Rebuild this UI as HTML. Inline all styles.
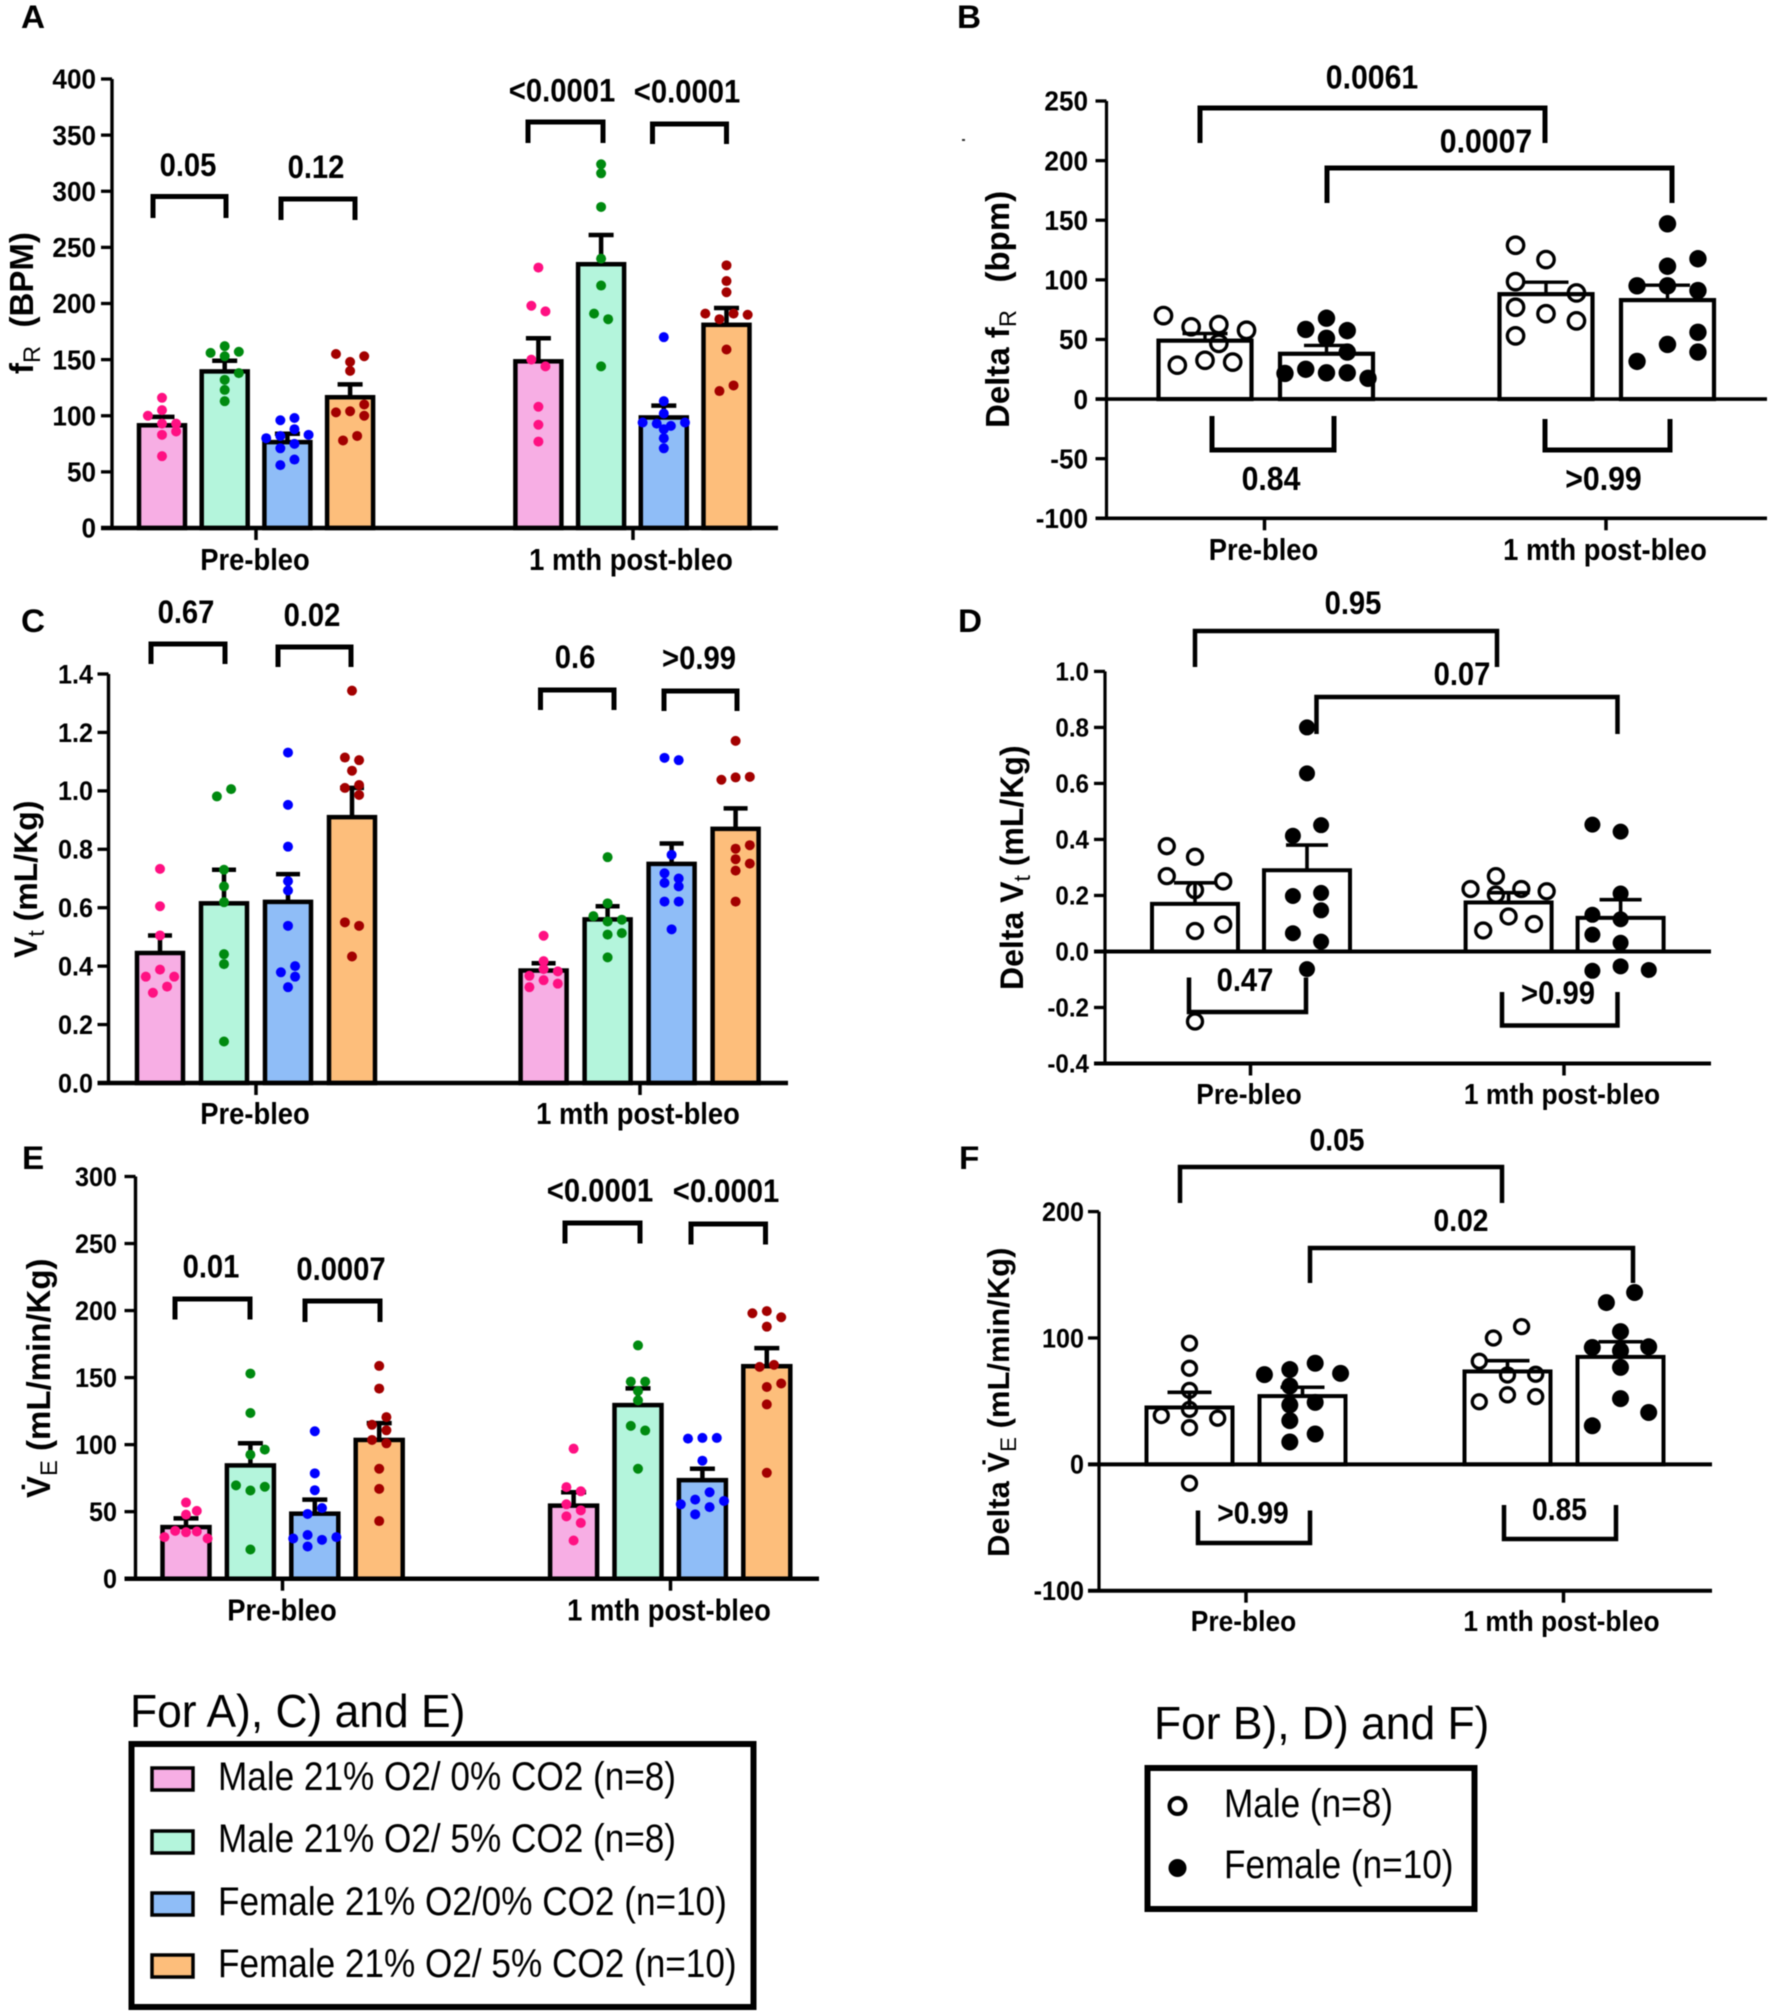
<!DOCTYPE html>
<html lang="en">
<head>
<meta charset="utf-8">
<title>Respiratory responses before and after bleomycin</title>
<style>
html,body{margin:0;padding:0;background:#fff;}
#figure{display:block;width:1772px;height:2012px;font-family:"Liberation Sans",Arial,sans-serif;filter:blur(0.45px);}
text{font-family:"Liberation Sans",Arial,sans-serif;fill:#000;}
</style>
</head>
<body>
<svg id="figure" xmlns="http://www.w3.org/2000/svg" width="1772" height="2012" viewBox="0 0 1772 2012">
  <rect x="0" y="0" width="1772" height="2012" fill="#fff"/>
  <rect x="962" y="139" width="3" height="2" fill="#333"/>

  <g>
    <text transform="translate(130 1727) scale(0.965 1)" font-size="46">For A), C) and E)</text>
    <rect x="131.5" y="1744" width="622" height="263" fill="#fff" stroke="#000" stroke-width="6"/>
    <rect x="152" y="1768" width="41" height="22" fill="#F7AEE4" stroke="#000" stroke-width="3.5"/>
    <text transform="translate(218 1790) scale(0.89 1)" font-size="39.5">Male 21% O2/ 0% CO2 (n=8)</text>
    <rect x="152" y="1831" width="41" height="22" fill="#B4F5DC" stroke="#000" stroke-width="3.5"/>
    <text transform="translate(218 1852) scale(0.89 1)" font-size="39.5">Male 21% O2/ 5% CO2 (n=8)</text>
    <rect x="152" y="1893" width="41" height="22" fill="#8FBDF7" stroke="#000" stroke-width="3.5"/>
    <text transform="translate(218 1915) scale(0.89 1)" font-size="39.5">Female 21% O2/0% CO2 (n=10)</text>
    <rect x="152" y="1955" width="41" height="22" fill="#FDBE7B" stroke="#000" stroke-width="3.5"/>
    <text transform="translate(218 1977) scale(0.89 1)" font-size="39.5">Female 21% O2/ 5% CO2 (n=10)</text>
  </g>

  <g>
    <text transform="translate(1154 1739) scale(0.965 1)" font-size="46">For B), D) and F)</text>
    <rect x="1147.5" y="1768" width="327" height="141" fill="#fff" stroke="#000" stroke-width="6"/>
    <circle cx="1177.5" cy="1806" r="8" fill="none" stroke="#000" stroke-width="4"/>
    <text transform="translate(1224 1817) scale(0.89 1)" font-size="39.5">Male (n=8)</text>
    <circle cx="1177.5" cy="1868" r="9" fill="#000"/>
    <text transform="translate(1224 1878) scale(0.89 1)" font-size="39.5">Female (n=10)</text>
  </g>
</svg>

<script>
/* ---------- shared categories ---------- */
const categories = ['Pre-bleo', '1 mth post-bleo'];
const gasSeriesFill = ['#F7AEE4', '#B4F5DC', '#8FBDF7', '#FDBE7B', '#F7AEE4', '#B4F5DC', '#8FBDF7', '#FDBE7B'];
const gasSeriesDot = ['#FF1082', '#008A10', '#0000FF', '#A30000', '#FF1082', '#008A10', '#0000FF', '#A30000'];

/* ---------- panel A: fR (BPM) ---------- */
const aTicks = ['0', '50', '100', '150', '200', '250', '300', '350', '400'];
const aMeans = [91.5, 139.5, 76.5, 116.5, 148.5, 235, 98.5, 181];
const aErrorTops = [99, 149, 84, 128, 169, 261, 109, 196];
const aValues = [
  [116, 105, 100, 93, 93, 86, 83, 64],
  [162, 156, 153, 157, 138, 132, 123, 113],
  [96, 98, 88, 80, 82, 83, 75, 71, 56, 61],
  [155, 153, 148, 140, 110, 100, 103, 104, 82, 78],
  [232, 198, 193, 150, 144, 108, 92, 77],
  [324, 316, 286, 240, 216, 191, 186, 144],
  [170, 113, 102, 94, 93, 91, 94, 88, 80, 71],
  [234, 220, 210, 191, 186, 191, 190, 159, 127, 122]
];
const aSwarm = [
  [0, 0, -2, 0, 2, 2, 0, 0],
  [0, -2, 0, 2, 2, 0, 0, 0],
  [-1, 1, 1, -3, -1, 3, 1, -1, -1, 1],
  [-2, 2, 0, 0, 2, 2, -2, 0, 1, -1],
  [0, -1, 1, -1, 1, 0, 0, 0],
  [0, 0, 0, 0, 0, -1, 1, 0],
  [0, 0, 0, -3, -1, 1, 3, 0, 0, 0],
  [0, 0, 0, -3, -1, 1, 3, 0, 1, -1]
];

/* ---------- panel B: delta fR (bpm) ---------- */
const bTicks = ['-100', '-50', '0', '50', '100', '150', '200', '250'];
const bMeans = [49, 38, 88, 83];
const bErrorTops = [55, 45, 98, 95.5];
const bValues = [
  [70, 60.6, 62.5, 57.7, 46.7, 32.5, 31, 28.4],
  [67.8, 58.4, 57.4, 51, 39.4, 25, 22, 22, 21.5, 17.4],
  [129, 117, 98.5, 89, 77, 71.6, 65.6, 53],
  [147, 117.7, 111.4, 95, 95, 91, 56, 45.8, 39.4, 31.6]
];
const bSwarm = [
  [-3, -1, 1, 3, 1, 0, 2, -2],
  [0, -1.5, 1.5, 0, 1.5, -1.5, 0, 1.5, -3, 3],
  [-2.2, 0, -2.2, 2.2, -2.2, 0, 2.2, -2.2],
  [0, 2.2, 0, -2.2, 0, 2.2, 2.2, 0, 2.2, -2.2]
];

/* ---------- panel C: Vt (mL/Kg) ---------- */
const cTicks = ['0.0', '0.2', '0.4', '0.6', '0.8', '1.0', '1.2', '1.4'];
const cMeans = [0.445, 0.615, 0.62, 0.91, 0.385, 0.56, 0.75, 0.87];
const cErrorTops = [0.505, 0.73, 0.715, 1.01, 0.41, 0.605, 0.82, 0.94];
const cValues = [
  [0.733, 0.605, 0.505, 0.388, 0.364, 0.364, 0.33, 0.309],
  [1.006, 0.981, 0.73, 0.673, 0.619, 0.441, 0.407, 0.142],
  [1.131, 0.952, 0.809, 0.691, 0.659, 0.538, 0.4, 0.379, 0.364, 0.328],
  [1.343, 1.114, 1.105, 1.069, 1.02, 1.01, 0.986, 0.55, 0.538, 0.433],
  [0.504, 0.417, 0.39, 0.367, 0.382, 0.352, 0.34, 0.328],
  [0.773, 0.615, 0.571, 0.553, 0.559, 0.508, 0.513, 0.43],
  [1.113, 1.105, 0.781, 0.718, 0.7, 0.685, 0.673, 0.621, 0.621, 0.526],
  [1.171, 1.038, 1.046, 1.048, 0.814, 0.802, 0.766, 0.751, 0.727, 0.621]
];
const cSwarm = [
  [0, 0, 0, 0, -2, 2, 1, -1],
  [1, -1, 0, 0, 0, 0, 0, 0],
  [0, 0, 0, 0, 0, 0, 1, -1, 1, 0],
  [0, -1, 1, 0, 1, -1, 1, -1, 1, 0],
  [0, 0, 0, -2, 2, 0, 2, -2],
  [0, 0, -2, 0, 2, 0, 2, 0],
  [-1, 1, 0, -1, 1, -1, 1, -1, 1, 0],
  [0, -2, 0, 2, 2, 0, 0, 2, 0, 0]
];

/* ---------- panel D: delta Vt (mL/Kg) ---------- */
const dTicks = ['-0.4', '-0.2', '0.0', '0.2', '0.4', '0.6', '0.8', '1.0'];
const dMeans = [0.17, 0.29, 0.175, 0.12];
const dErrorTops = [0.245, 0.38, 0.21, 0.185];
const dValues = [
  [0.376, 0.338, 0.269, 0.25, 0.219, 0.096, 0.073, -0.25],
  [0.8, 0.636, 0.451, 0.413, 0.209, 0.198, 0.147, 0.065, 0.035, -0.063],
  [0.269, 0.223, 0.223, 0.215, 0.203, 0.125, 0.098, 0.075],
  [0.453, 0.428, 0.207, 0.131, 0.115, 0.06, 0.031, -0.053, -0.069, -0.066]
];
const dSwarm = [
  [-2, 0, -2, 2, 0, 2, 0, 0],
  [0, 0, 1, -1, 1, -1, 1, -1, 1, 0],
  [-0.9, -2.7, 0.9, 2.7, -0.9, 0, 1.8, -1.8],
  [-2, 0, 0, -2, 0, -2, 0, 0, -2, 2]
];

/* ---------- panel E: VE (mL/min/Kg) ---------- */
const eTicks = ['0', '50', '100', '150', '200', '250', '300'];
const eMeans = [38.5, 84.5, 48.5, 103.5, 54.5, 129.5, 73.5, 158.5];
const eErrorTops = [45, 101, 59, 116, 64.5, 142, 82, 172];
const eValues = [
  [56.8, 50.6, 47.8, 35.7, 34.7, 35.2, 31, 30],
  [153, 123.6, 96.3, 92.5, 69.6, 68.6, 65.8, 21.8],
  [110, 78.6, 66, 52.7, 48.3, 32.6, 30, 29, 31, 24],
  [158.7, 141.8, 120.5, 114.8, 110.7, 103.5, 101, 82, 67, 43],
  [97, 68.3, 65.2, 55.5, 51, 46.5, 41.6, 28.5],
  [174, 147, 147, 140, 133, 114, 110.5, 82],
  [104.5, 105, 105, 88, 64.5, 59, 58, 55.5, 53.4, 48],
  [198, 199.6, 195, 188, 158, 159.5, 143, 145.6, 130, 79]
];
const eSwarm = [
  [0, 1.5, 0, -1.5, 0, 1.5, -3, 3],
  [0, 0, 2, 0, -2, 2, 0, 0],
  [0, 0, 0, 1, -1, -1, -3, 1, 3, -1],
  [0, 0, 1, -1, 1, -1, 1, 0, 0, 0],
  [0, -1, 1, -1, 1, -1, 1, 0],
  [0, -1, 1, 0, 0, -1, 1, 0],
  [-2, 0, 2, 0, 1, -1, 3, -3, 1, -1],
  [-2, 0, 2, 0, -1, 1, 0, 2, 0, 0]
];

/* ---------- panel F: delta VE (mL/min/Kg) ---------- */
const fTicks = ['-100', '0', '100', '200'];
const fMeans = [45, 54, 73.5, 85];
const fErrorTops = [57, 61, 82, 97];
const fValues = [
  [95.8, 76, 58.5, 43.5, 38.6, 36.5, 29, -15],
  [80, 75, 71, 72, 62, 47, 49, 34.6, 24, 17.7],
  [109, 100, 81.6, 70.7, 71.3, 55, 53.6, 49.5],
  [136, 128, 105, 92.5, 93, 90, 76.7, 52, 41, 30.5]
];
const fSwarm = [
  [0, 0, 0, 0, -2, 2, 0, 0],
  [0.9, -0.9, -2.7, 2.7, -0.9, -0.9, 0.9, -0.9, 0.9, -0.9],
  [1, -1, -2, 0, 2, 0, 2, -2],
  [1, -1, 0, -2, 2, 0, 0, 0, 2, -2]
];

/* ---------- drawing helpers ---------- */
const NS = 'http://www.w3.org/2000/svg';
const figure = document.getElementById('figure');

function make(tag, attrs, parent) {
  const el = document.createElementNS(NS, tag);
  for (const k in attrs) el.setAttribute(k, attrs[k]);
  parent.appendChild(el);
  return el;
}

/* Source text is slightly condensed, so labels are drawn taller and narrowed. */
function placed(x, y, hScale) {
  return 'translate(' + x + ' ' + y + ') scale(' + hScale + ' 1)';
}

function addRuns(el, runs, subDrop) {
  runs.forEach(function (r) {
    const t = document.createElementNS(NS, 'tspan');
    t.textContent = r.t;
    if (r.sub) {
      t.setAttribute('font-size', '72%');
      t.setAttribute('font-weight', 'normal');
      t.setAttribute('dy', subDrop);
    } else if (r.up) {
      t.setAttribute('dy', -subDrop);
    }
    el.appendChild(t);
  });
}

function drawPanel(p) {
  const group = make('g', {}, figure);
  
  

  const tickValues = p.ticks.map(parseFloat);
  const maxV = Math.max.apply(null, tickValues);
  const minV = Math.min.apply(null, tickValues);
  const yScale = function (v) {
    return p.yTop + (maxV - v) / (maxV - minV) * (p.yBottom - p.yTop);
  };
  const half = p.means.length / 2;
  const barX = function (i) {
    const g = i < half ? 0 : 1;
    return p.firstBar + (i % half) * p.barGap + g * p.groupGap;
  };

  const letter = make('text', {transform: placed(p.letterX, p.letterY, 1.04), 'font-size': 32, 'font-weight': 'bold'}, group);
  
  
  letter.textContent = p.id.toUpperCase();

  /* bars */
  p.means.forEach(function (m, i) {
    const cx = barX(i);
    const y0 = yScale(0);
    const yM = yScale(m);
    const bar = make('rect', {
      x: cx - p.barW / 2, y: Math.min(y0, yM), width: p.barW, height: Math.abs(y0 - yM),
      fill: p.fills ? p.fills[i] : '#fff', stroke: '#000', 'stroke-width': p.barStroke
    }, group);
    
    
  });

  /* error bars */
  p.errorTops.forEach(function (top, i) {
    const cx = barX(i);
    const err = make('path', {
      d: 'M' + cx + ' ' + yScale(p.means[i]) + 'V' + yScale(top) +
         'M' + (cx - p.capW / 2) + ' ' + yScale(top) + 'H' + (cx + p.capW / 2),
      fill: 'none', stroke: '#000', 'stroke-width': p.errStroke
    }, group);
    
    
  });

  /* individual animals */
  p.values.forEach(function (series, i) {
    series.forEach(function (v, j) {
      const open = p.openIdx && p.openIdx.indexOf(i) >= 0;
      const dotColor = p.dots ? p.dots[i] : '#000';
      const dot = make('circle', {
        cx: barX(i) + p.swarm[i][j] * p.slotW, cy: yScale(v),
        r: open ? p.openR : p.dotR,
        fill: open ? 'none' : dotColor,
        stroke: open ? '#000' : 'none',
        'stroke-width': open ? 3.3 : 0
      }, group);
      
      
    });
  });

  /* y axis */
  const yAxis = make('line', {x1: p.axisX, x2: p.axisX, y1: yScale(maxV), y2: yScale(minV), stroke: '#000', 'stroke-width': p.axisStroke}, group);
  
  
  p.ticks.forEach(function (lab, i) {
    const v = tickValues[i];
    const tick = make('line', {x1: p.axisX - 11, x2: p.axisX, y1: yScale(v), y2: yScale(v), stroke: '#000', 'stroke-width': 3.3}, group);
    
    
    const t = make('text', {transform: placed(p.tickLabelX, yScale(v) + p.tickFont * 0.36, 0.94), 'font-size': p.tickFont * 1.03, 'font-weight': 'bold', 'text-anchor': 'end'}, group);
    
    
    t.textContent = lab;
  });

  /* x axes */
  const zero = make('line', {x1: p.axisX - 11, x2: p.axisRight, y1: yScale(0), y2: yScale(0), stroke: '#000', 'stroke-width': p.xStroke}, group);
  
  
  const baseY = yScale(minV);
  if (minV < 0) {
    const xAxis = make('line', {x1: p.axisX - 11, x2: p.axisRight, y1: baseY, y2: baseY, stroke: '#000', 'stroke-width': p.xStroke}, group);
    
    
  }
  categories.forEach(function (c, i) {
    const tick = make('line', {x1: p.xTicks[i], x2: p.xTicks[i], y1: baseY, y2: baseY + 12, stroke: '#000', 'stroke-width': 3.5}, group);
    
    
    const t = make('text', {transform: placed(p.xLabels[i], p.xLabelY, 0.905), 'font-size': p.xFont * 1.12, 'font-weight': 'bold', 'text-anchor': 'middle'}, group);
    
    
    t.textContent = c;
  });

  /* y title */
  const title = make('text', {
    transform: 'translate(' + p.titleX + ',' + p.titleY + ') rotate(-90)',
    'font-size': p.titleFont, 'font-weight': 'bold'
  }, group);
  
  
  addRuns(title, p.title, 7);

  /* significance brackets */
  p.brackets.forEach(function (b, i) {
    const path = make('path', {
      d: 'M' + b[0] + ' ' + b[2] + 'V' + b[3] + 'H' + b[1] + 'V' + b[2],
      fill: 'none', stroke: '#000', 'stroke-width': p.bracketStroke
    }, group);
    
    
    const t = make('text', {transform: placed(b[5], b[6], 0.9), 'font-size': p.pFont * 1.12, 'font-weight': 'bold', 'text-anchor': 'middle'}, group);
    
    
    t.textContent = b[4];
  });
}

/* ---------- panel layouts ---------- */
drawPanel({
  id: 'a', ticks: aTicks, means: aMeans, errorTops: aErrorTops, values: aValues, swarm: aSwarm,
  fills: gasSeriesFill, dots: gasSeriesDot,
  axisX: 112, axisRight: 778, yTop: 79, yBottom: 528,
  firstBar: 162, barGap: 62.7, groupGap: 376.4, barW: 46, barStroke: 4.5, capW: 25, errStroke: 4.5,
  slotW: 7.06, dotR: 5, axisStroke: 3.4, xStroke: 4.5,
  tickLabelX: 96, tickFont: 27, xTicks: [256, 633], xLabels: [255, 631], xLabelY: 570, xFont: 27,
  letterX: 21, letterY: 28, titleX: 33, titleY: 374,
  titleFont: 33, title: [{t: 'f'}, {t: 'R', sub: true}, {t: '\u00A0\u00A0(BPM)', up: true}],
  bracketStroke: 5, pFont: 29,
  brackets: [
    [153, 226, 218, 196.5, '0.05', 188, 176],
    [281, 355, 220, 199, '0.12', 316, 178],
    [528, 603, 143, 122, '<0.0001', 562, 101.5],
    [652.5, 726.5, 144, 124, '<0.0001', 687, 102.5]
  ]
});

drawPanel({
  id: 'b', ticks: bTicks, means: bMeans, errorTops: bErrorTops, values: bValues, swarm: bSwarm,
  openIdx: [0, 2],
  axisX: 1106.5, axisRight: 1767, yTop: 101, yBottom: 518.3,
  firstBar: 1205, barGap: 121.5, groupGap: 341, barW: 93, barStroke: 4.2, capW: 45, errStroke: 3.4,
  slotW: 13.84, dotR: 8.7, openR: 8.2, axisStroke: 3.2, xStroke: 3.6,
  tickLabelX: 1088, tickFont: 27, xTicks: [1264.5, 1606], xLabels: [1263.5, 1605], xLabelY: 560, xFont: 27,
  letterX: 957, letterY: 28, titleX: 1009, titleY: 428,
  titleFont: 33, title: [{t: 'Delta f'}, {t: 'R', sub: true}, {t: '\u00A0\u00A0\u00A0(bpm)', up: true}],
  bracketStroke: 5, pFont: 30,
  brackets: [
    [1200, 1545, 143, 108, '0.0061', 1372, 88.5],
    [1327, 1672, 203, 168, '0.0007', 1486, 152.5],
    [1212, 1334, 416, 450, '0.84', 1271, 490],
    [1545, 1670, 419, 450, '>0.99', 1603.5, 490]
  ]
});

drawPanel({
  id: 'c', ticks: cTicks, means: cMeans, errorTops: cErrorTops, values: cValues, swarm: cSwarm,
  fills: gasSeriesFill, dots: gasSeriesDot,
  axisX: 108.5, axisRight: 788, yTop: 674, yBottom: 1083,
  firstBar: 160, barGap: 64, groupGap: 383.6, barW: 46, barStroke: 4.5, capW: 24, errStroke: 4.5,
  slotW: 7.1, dotR: 5, axisStroke: 3.4, xStroke: 4.5,
  tickLabelX: 93, tickFont: 26, xTicks: [256, 640], xLabels: [255, 638], xLabelY: 1124, xFont: 27,
  letterX: 21, letterY: 632, titleX: 37, titleY: 958,
  titleFont: 32, title: [{t: 'V'}, {t: 't', sub: true}, {t: ' (mL/Kg)', up: true}],
  bracketStroke: 5, pFont: 29,
  brackets: [
    [151, 225, 664, 644, '0.67', 186, 623],
    [278, 351, 667, 647, '0.02', 312, 626],
    [540.5, 614, 710, 690, '0.6', 575, 668],
    [664, 737, 711, 691, '>0.99', 699, 669]
  ]
});

drawPanel({
  id: 'd', ticks: dTicks, means: dMeans, errorTops: dErrorTops, values: dValues, swarm: dSwarm,
  openIdx: [0, 2],
  axisX: 1105, axisRight: 1711, yTop: 671.4, yBottom: 1063.5,
  firstBar: 1195, barGap: 112, groupGap: 313.6, barW: 86, barStroke: 4, capW: 42, errStroke: 3.6,
  slotW: 14.1, dotR: 8, openR: 7.5, axisStroke: 3.2, xStroke: 4,
  tickLabelX: 1089, tickFont: 25, xTicks: [1250.5, 1564], xLabels: [1249, 1562], xLabelY: 1104, xFont: 26,
  letterX: 958, letterY: 632, titleX: 1023, titleY: 990,
  titleFont: 32, title: [{t: 'Delta V'}, {t: 't', sub: true}, {t: ' (mL/Kg)', up: true}],
  bracketStroke: 4.5, pFont: 29,
  brackets: [
    [1195, 1497, 667, 631, '0.95', 1353, 614],
    [1316.5, 1617.5, 734, 697, '0.07', 1462, 685],
    [1189, 1306, 977.5, 1012, '0.47', 1245, 991],
    [1502, 1617.5, 992, 1025.5, '>0.99', 1558, 1004]
  ]
});

drawPanel({
  id: 'e', ticks: eTicks, means: eMeans, errorTops: eErrorTops, values: eValues, swarm: eSwarm,
  fills: gasSeriesFill, dots: gasSeriesDot,
  axisX: 135.5, axisRight: 819, yTop: 1176.5, yBottom: 1578.7,
  firstBar: 186, barGap: 64.4, groupGap: 387.6, barW: 47, barStroke: 4.5, capW: 25, errStroke: 4.5,
  slotW: 7.2, dotR: 5, axisStroke: 3.4, xStroke: 4.5,
  tickLabelX: 117, tickFont: 26, xTicks: [282.5, 670.5], xLabels: [282, 669], xLabelY: 1620.5, xFont: 27,
  letterX: 22, letterY: 1169, titleX: 50, titleY: 1498,
  titleFont: 33, title: [{t: 'V\u0307'}, {t: 'E', sub: true}, {t: ' (mL/min/Kg)', up: true}],
  bracketStroke: 5, pFont: 29,
  brackets: [
    [175, 250, 1319.5, 1299, '0.01', 211, 1277.5],
    [305, 380, 1322, 1301, '0.0007', 341, 1280],
    [565, 640, 1243.5, 1223, '<0.0001', 600, 1201.5],
    [691, 765.5, 1244.5, 1224, '<0.0001', 726, 1202]
  ]
});

drawPanel({
  id: 'f', ticks: fTicks, means: fMeans, errorTops: fErrorTops, values: fValues, swarm: fSwarm,
  openIdx: [0, 2],
  axisX: 1099, axisRight: 1712, yTop: 1211.6, yBottom: 1590.7,
  firstBar: 1189.5, barGap: 113, groupGap: 318, barW: 86, barStroke: 4, capW: 44, errStroke: 3.6,
  slotW: 14.1, dotR: 8.5, openR: 7, axisStroke: 3.2, xStroke: 4,
  tickLabelX: 1084, tickFont: 26, xTicks: [1246, 1563.5], xLabels: [1243.5, 1561.5], xLabelY: 1631, xFont: 26,
  letterX: 959, letterY: 1169, titleX: 1009, titleY: 1557,
  titleFont: 31, title: [{t: 'Delta V\u0307'}, {t: 'E', sub: true}, {t: ' (mL/min/Kg)', up: true}],
  bracketStroke: 4.5, pFont: 28,
  brackets: [
    [1180, 1502, 1203, 1167, '0.05', 1337, 1150.5],
    [1310, 1633, 1283, 1248, '0.02', 1461, 1231],
    [1198, 1310, 1510.5, 1543, '>0.99', 1253, 1523.5],
    [1504, 1616, 1505, 1539, '0.85', 1559.5, 1520]
  ]
});
</script>
</body>
</html>
